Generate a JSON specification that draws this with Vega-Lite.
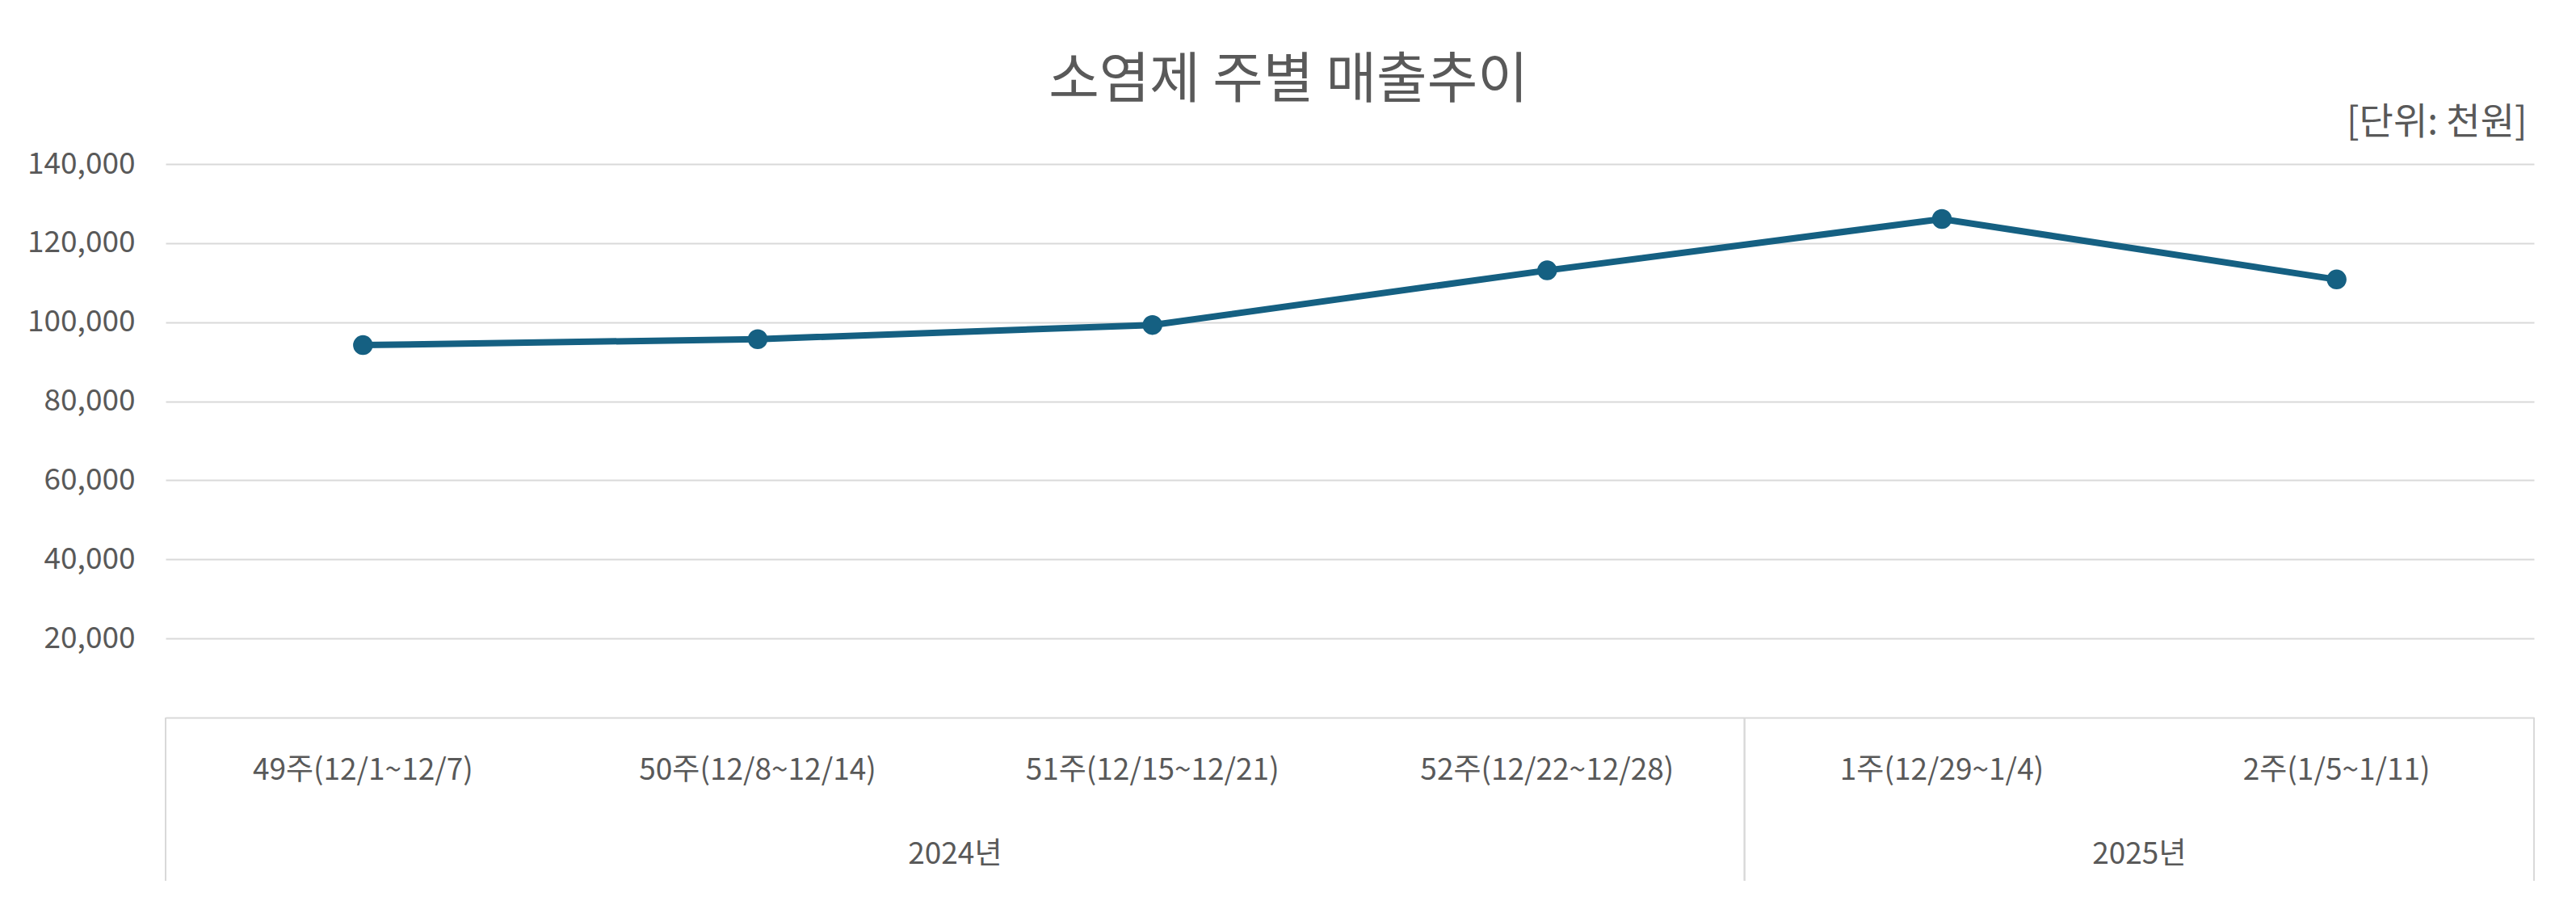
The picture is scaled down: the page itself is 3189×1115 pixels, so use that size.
{
  "$schema": "https://vega.github.io/schema/vega-lite/v6.json",
  "width": 2932,
  "height": 685,
  "autosize": {"type": "none"},
  "padding": {"left": 205, "top": 203, "right": 52, "bottom": 227},
  "background": "white",
  "config": {"font": "Noto Sans CJK KR", "view": {"stroke": null}},
  "title": {
    "text": "소염제 주별 매출추이",
    "fontSize": 68,
    "fontWeight": "normal",
    "color": "#595959",
    "anchor": "middle",
    "frame": "group",
    "dx": -76,
    "offset": -7
  },
  "datasets": {
    "sales": [
      {"week": "49주(12/1~12/7)", "sales": 94200},
      {"week": "50주(12/8~12/14)", "sales": 95700},
      {"week": "51주(12/15~12/21)", "sales": 99300},
      {"week": "52주(12/22~12/28)", "sales": 113100},
      {"week": "1주(12/29~1/4)", "sales": 126100},
      {"week": "2주(1/5~1/11)", "sales": 110800}
    ],
    "years": [
      {"year": "2024년", "first": "49주(12/1~12/7)", "mid": "50주(12/8~12/14)", "last": "52주(12/22~12/28)"},
      {"year": "2025년", "first": "1주(12/29~1/4)", "mid": "1주(12/29~1/4)", "last": "2주(1/5~1/11)"}
    ]
  },
  "layer": [
    {
      "data": {"name": "sales"},
      "mark": {"type": "line", "color": "#156082", "strokeWidth": 8, "point": {"filled": true, "size": 600, "color": "#156082"}},
      "encoding": {
        "x": {
          "field": "week", "type": "ordinal", "bandPosition": 0.5,
          "scale": {"type": "band", "paddingInner": 0, "paddingOuter": 0,
            "domain": ["49주(12/1~12/7)", "50주(12/8~12/14)", "51주(12/15~12/21)", "52주(12/22~12/28)", "1주(12/29~1/4)", "2주(1/5~1/11)"]},
          "axis": {
            "title": null, "labelAngle": 0, "labelFontSize": 37, "labelColor": "#595959",
            "labelPadding": 47, "labelLimit": 0, "ticks": false, "domain": true, "domainColor": "#d9d9d9",
            "domainWidth": 2, "grid": false, "labelBaseline": "top"
          }
        },
        "y": {
          "field": "sales", "type": "quantitative",
          "scale": {"domain": [0, 140000], "nice": false, "zero": true},
          "axis": {
            "title": "[단위: 천원]", "titleAngle": 0, "titleX": 2923, "titleY": -38,
            "titleAlign": "right", "titleBaseline": "alphabetic", "titleFontSize": 46,
            "titleFontWeight": "normal", "titleColor": "#595959",
            "values": [20000, 40000, 60000, 80000, 100000, 120000, 140000],
            "format": ",.0f", "formatType": "number", "labelFontSize": 37, "labelColor": "#595959", "labelPadding": 38,
            "ticks": false, "domain": false, "grid": true, "gridColor": "#d9d9d9", "gridWidth": 2
          }
        }
      }
    },
    {
      "data": {"name": "years"},
      "mark": {"type": "rule", "color": "#d9d9d9", "strokeWidth": 2},
      "encoding": {
        "x": {"field": "first", "type": "ordinal", "bandPosition": 0},
        "y": {"datum": 0, "type": "quantitative"},
        "y2": {"datum": -41280}
      }
    },
    {
      "data": {"name": "years"},
      "mark": {"type": "rule", "color": "#d9d9d9", "strokeWidth": 2},
      "encoding": {
        "x": {"field": "last", "type": "ordinal", "bandPosition": 1},
        "y": {"datum": 0, "type": "quantitative"},
        "y2": {"datum": -41280}
      }
    },
    {
      "data": {"name": "years"},
      "mark": {"type": "text", "fontSize": 37, "color": "#595959", "align": "center", "baseline": "middle"},
      "encoding": {
        "x": {"field": "mid", "type": "ordinal", "bandPosition": 1},
        "y": {"datum": -34740, "type": "quantitative"},
        "text": {"field": "year"}
      }
    }
  ]
}
